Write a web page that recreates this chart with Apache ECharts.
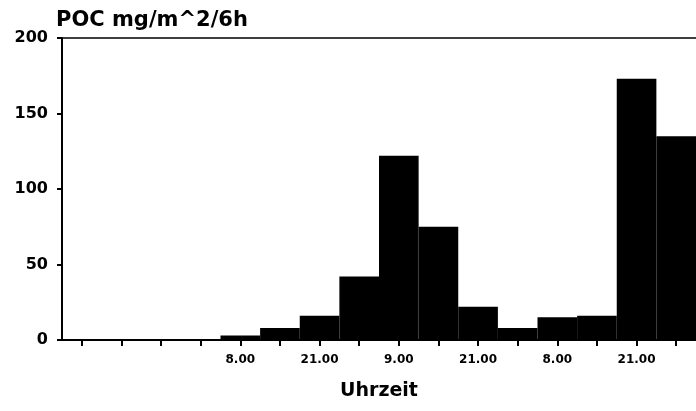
<!DOCTYPE html>
<html>
<head>
<meta charset="utf-8">
<script src="https://cdn.jsdelivr.net/npm/echarts@6/dist/echarts.min.js"></script>
<style>html,body{margin:0;padding:0;background:#fff;}#c{width:696px;height:411px;}</style>
</head>
<body>
<div id="c"></div>
<script>
var categories = ["", "", "", "", "8.00", "", "21.00", "", "9.00", "", "21.00", "", "8.00", "", "21.00", ""];
var values = [0, 0, 0, 0, 3, 8, 16, 42, 122, 75, 22, 8, 15, 16, 173, 135];
var yTicks = [0, 50, 100, 150, 200];
var titleText = "POC mg/m^2/6h";
var xName = "Uhrzeit";

var chart = echarts.init(document.getElementById('c'), null, {renderer: 'canvas'});
var F = "DejaVu Sans";
chart.setOption({
  animation: false,
  backgroundColor: '#fff',
  title: {text: titleText, left: 51, top: 5, textStyle: {fontFamily: F, fontWeight: 'bold', fontSize: 21, color: '#000'}},
  grid: {left: 62, top: 38, right: -6, bottom: 71, containLabel: false},
  xAxis: [{
    type: 'category', data: categories, boundaryGap: true,
    name: xName, nameLocation: 'middle', nameGap: 42,
    nameTextStyle: {fontFamily: F, fontWeight: 'bold', fontSize: 19, color: '#000'},
    axisLine: {lineStyle: {color: '#000', width: 2}},
    axisTick: {show: true, alignWithLabel: true, interval: 0, length: 6, lineStyle: {color: '#000', width: 2}},
    axisLabel: {interval: 0, margin: 14, fontFamily: F, fontWeight: 'bold', fontSize: 12, color: '#000'},
    z: 10
  }, {
    type: 'category', data: categories, position: 'top', boundaryGap: true,
    axisLine: {lineStyle: {color: '#000', width: 1.5}}, axisTick: {show: false}, axisLabel: {show: false}
  }],
  yAxis: {
    type: 'value', min: yTicks[0], max: yTicks[yTicks.length - 1], interval: 50,
    axisLine: {show: true, lineStyle: {color: '#000', width: 2}},
    axisTick: {show: true, length: 5, lineStyle: {color: '#000', width: 2}},
    splitLine: {show: false},
    axisLabel: {margin: 14, fontFamily: F, fontWeight: 'bold', fontSize: 16, color: '#000'}
  },
  series: [{
    type: 'bar', data: values, barWidth: '100%', barGap: '0%', barCategoryGap: '0%',
    itemStyle: {color: '#000', borderColor: '#000', borderWidth: 1.5}
  }]
});
</script>
</body>
</html>
